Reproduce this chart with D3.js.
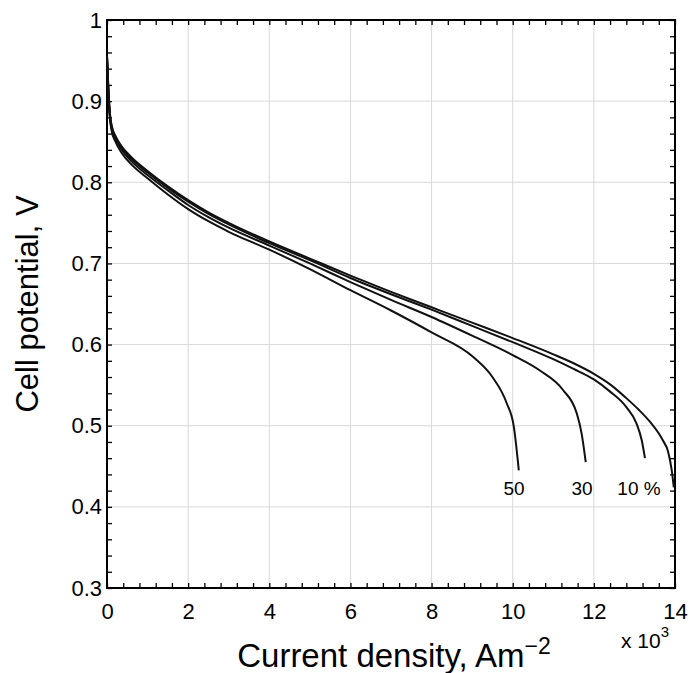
<!DOCTYPE html>
<html>
<head>
<meta charset="utf-8">
<script src="https://cdn.jsdelivr.net/npm/d3@7"></script>
<style>
  body { margin: 0; background: #fff; }
  text { font-family: "Liberation Sans", Arial, sans-serif; fill: #000; }
</style>
</head>
<body>
<div id="chart"></div>
<script>
// current density in 10^3 A/m^2, cell potential in V
var x0 = [0, 0.03, 0.07, 0.12, 0.2, 0.35, 0.6, 1.0, 1.5, 2, 2.5, 3, 4, 5, 6, 7, 8, 9, 10, 11, 11.5, 12, 12.4, 12.8, 13.1, 13.38, 13.7, 13.83, 13.92, 13.97];
var v0 = [0.955, 0.92, 0.886, 0.869, 0.858, 0.845, 0.831, 0.814, 0.795, 0.778, 0.763, 0.750, 0.727, 0.706, 0.685, 0.665, 0.646, 0.627, 0.608, 0.588, 0.577, 0.564, 0.551, 0.534, 0.520, 0.505, 0.482, 0.468, 0.445, 0.424];

var x10 = [0, 0.03, 0.07, 0.12, 0.2, 0.35, 0.6, 1.0, 1.5, 2, 2.5, 3, 4, 5, 6, 7, 8, 9, 10, 11, 11.5, 12, 12.4, 12.8, 13.05, 13.18, 13.26];
var v10 = [0.955, 0.918, 0.884, 0.867, 0.856, 0.843, 0.829, 0.812, 0.793, 0.776, 0.761, 0.748, 0.725, 0.704, 0.682, 0.662, 0.643, 0.623, 0.603, 0.582, 0.570, 0.557, 0.542, 0.523, 0.503, 0.482, 0.46];

var x30 = [0, 0.03, 0.07, 0.12, 0.2, 0.35, 0.6, 1.0, 1.5, 2, 2.5, 3, 4, 5, 6, 7, 8, 9, 10, 10.67, 11.24, 11.58, 11.7, 11.8];
var v30 = [0.955, 0.916, 0.882, 0.865, 0.854, 0.841, 0.826, 0.809, 0.790, 0.772, 0.757, 0.744, 0.722, 0.700, 0.677, 0.655, 0.634, 0.611, 0.587, 0.568, 0.544, 0.515, 0.49, 0.455];

var x50 = [0, 0.03, 0.07, 0.12, 0.2, 0.35, 0.6, 1.0, 1.5, 2, 2.5, 3, 4, 5, 6, 7, 8, 9.02, 9.5, 9.85, 10.03, 10.15];
var v50 = [0.955, 0.914, 0.88, 0.862, 0.851, 0.837, 0.822, 0.805, 0.785, 0.767, 0.752, 0.739, 0.717, 0.693, 0.667, 0.642, 0.615, 0.585, 0.56, 0.528, 0.498, 0.445];

var curveLabels = ["50", "30", "10 %"];
var xTicks = [0, 2, 4, 6, 8, 10, 12, 14];
var yTicks = [0.3, 0.4, 0.5, 0.6, 0.7, 0.8, 0.9, 1];

var W = 691, H = 673;
var pLeft = 107, pRight = 675, pTop = 20, pBottom = 588;

var svg = d3.select("#chart").append("svg")
	.attr("width", W)
	.attr("height", H);

var x = d3.scaleLinear().domain([0, 14]).range([pLeft, pRight]);
var y = d3.scaleLinear().domain([0.3, 1]).range([pBottom, pTop]);

// grid
var grid = svg.append("g").attr("stroke", "#d9d9d9").attr("stroke-width", 1);
grid.selectAll(".gx").data(xTicks.slice(1, -1)).enter().append("line")
	.attr("x1", d => x(d)).attr("x2", d => x(d))
	.attr("y1", pTop).attr("y2", pBottom);
grid.selectAll(".gy").data(yTicks.slice(1, -1)).enter().append("line")
	.attr("y1", d => y(d)).attr("y2", d => y(d))
	.attr("x1", pLeft).attr("x2", pRight);

// inward ticks on all four sides (minor every 0.4 and 0.02)
var minorX = d3.range(0, 14.001, 0.4);
var minorY = d3.range(0.3, 1.0001, 0.02);
var tickLen = 5;

function tickAxis(axis, pos) {
	svg.append("g")
		.attr("transform", pos)
		.call(axis)
		.call(g => g.select(".domain").remove())
		.call(g => g.selectAll("text").remove())
		.call(g => g.selectAll("line").attr("stroke", "#000").attr("stroke-width", 1.3));
}
tickAxis(d3.axisTop(x).tickValues(minorX).tickSize(tickLen), "translate(0," + pBottom + ")");
tickAxis(d3.axisBottom(x).tickValues(minorX).tickSize(tickLen), "translate(0," + pTop + ")");
tickAxis(d3.axisRight(y).tickValues(minorY).tickSize(tickLen), "translate(" + pLeft + ",0)");
tickAxis(d3.axisLeft(y).tickValues(minorY).tickSize(tickLen), "translate(" + pRight + ",0)");

// frame
svg.append("rect")
	.attr("x", pLeft).attr("y", pTop)
	.attr("width", pRight - pLeft).attr("height", pBottom - pTop)
	.attr("fill", "none").attr("stroke", "#000").attr("stroke-width", 2);

// tick labels
svg.append("g")
	.attr("transform", "translate(0," + pBottom + ")")
	.call(d3.axisBottom(x).tickValues(xTicks).tickSize(0).tickPadding(15).tickFormat(d3.format("d")))
	.call(g => g.select(".domain").remove())
	.call(g => g.selectAll("text").attr("font-size", 22).attr("font-family", "Liberation Sans, Arial, sans-serif"));

svg.append("g")
	.attr("transform", "translate(" + pLeft + ",0)")
	.call(d3.axisLeft(y).tickValues(yTicks).tickSize(0).tickPadding(5).tickFormat(d => d === 1 ? "1" : d3.format(".1f")(d)))
	.call(g => g.select(".domain").remove())
	.call(g => g.selectAll("text").attr("font-size", 22).attr("font-family", "Liberation Sans, Arial, sans-serif"));

// curves
var line = d3.line()
	.x(d => x(d[0]))
	.y(d => y(d[1]))
	.curve(d3.curveMonotoneX);

var series = [[x0, v0], [x10, v10], [x30, v30], [x50, v50]];
series.forEach(function (s) {
	var pts = s[0].map((d, i) => [d, s[1][i]]);
	svg.append("path")
		.datum(pts)
		.attr("d", line)
		.attr("fill", "none")
		.attr("stroke", "#111")
		.attr("stroke-width", 2);
});

// curve labels below their ends
var labelAt = [[x50, 514], [x30, 582], [x10, 639]];
labelAt.forEach(function (p, i) {
	svg.append("text")
		.attr("x", p[1])
		.attr("y", 495)
		.attr("text-anchor", "middle")
		.attr("font-size", 19)
		.text(curveLabels[i]);
});

// x 10^3 multiplier
var mult = svg.append("text")
	.attr("x", 621).attr("y", 648)
	.attr("font-size", 21);
mult.append("tspan").text("x 10");
mult.append("tspan").attr("dy", -11).attr("font-size", 15).text("3");

// axis titles
var xt = svg.append("text")
	.attr("x", 394).attr("y", 667)
	.attr("text-anchor", "middle")
	.attr("font-size", 33);
xt.append("tspan").text("Current density, Am");
xt.append("tspan").attr("dy", -13).attr("font-size", 23).text("\u22122");

svg.append("text")
	.attr("transform", "translate(38," + ((pTop + pBottom) / 2) + ") rotate(-90)")
	.attr("text-anchor", "middle")
	.attr("font-size", 31)
	.text("Cell potential, V");
</script>
</body>
</html>
